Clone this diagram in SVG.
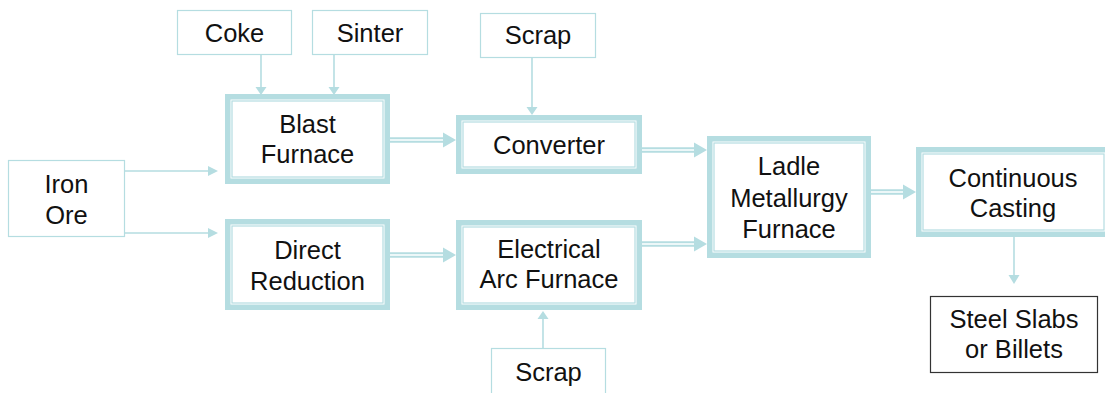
<svg xmlns="http://www.w3.org/2000/svg" width="1105" height="393" viewBox="0 0 1105 393">
<style>
text{font-family:"Liberation Sans",Arial,sans-serif;font-size:25.5px;fill:#111;text-anchor:middle}
.box{fill:#fff;stroke:#b5dde1;stroke-width:1.2}
.blk{fill:#fff;stroke:#333;stroke-width:1.2}
.outer{fill:#fff;stroke:#b5dde1;stroke-width:5.5}
.inner{fill:none;stroke:#b5dde1;stroke-width:1.2}
.ln{fill:none;stroke:#b5dde1;stroke-width:1.6}
.dbl{fill:none;stroke:#b5dde1;stroke-width:5.5}
.dblw{fill:none;stroke:#fff;stroke-width:1.5}
.ah{fill:#b5dde1}
</style>
<g id="connectors">
<path class="ln" d="M261 55V88"/><polygon class="ah" points="255.5,87 266.5,87 261,95"/>
<path class="ln" d="M334 55V88"/><polygon class="ah" points="328.5,87 339.5,87 334,95"/>
<path class="ln" d="M532 58V108"/><polygon class="ah" points="526.5,107 537.5,107 532,115"/>
<path class="ln" d="M125 171H209"/><polygon class="ah" points="208,166 208,176 218,171"/>
<path class="ln" d="M125 233H209"/><polygon class="ah" points="208,228 208,238 218,233"/>
<path class="ln" d="M1014 237V276"/><polygon class="ah" points="1008.5,275 1019.5,275 1014,284"/>
<path class="ln" d="M543 348V318"/><polygon class="ah" points="537.5,319 548.5,319 543,311"/>
<path class="dbl" d="M390 140H444"/><path class="dblw" d="M390 140H444"/><polygon class="ah" points="443,132.5 443,147.5 456,140"/>
<path class="dbl" d="M390 255H444"/><path class="dblw" d="M390 255H444"/><polygon class="ah" points="443,247.5 443,262.5 456,255"/>
<path class="dbl" d="M642 150H695"/><path class="dblw" d="M642 150H695"/><polygon class="ah" points="694,142.5 694,157.5 707,150"/>
<path class="dbl" d="M642 244H695"/><path class="dblw" d="M642 244H695"/><polygon class="ah" points="694,236.5 694,251.5 707,244"/>
<path class="dbl" d="M871 192H904"/><path class="dblw" d="M871 192H904"/><polygon class="ah" points="903,184.5 903,199.5 916,192"/>
</g>
<g id="coke"><rect class="box" x="177.5" y="10.5" width="114" height="44"/><text x="234.5" y="42">Coke</text></g>
<g id="sinter"><rect class="box" x="312.5" y="10.5" width="115" height="44"/><text x="370" y="42">Sinter</text></g>
<g id="scrap-top"><rect class="box" x="480.5" y="13.5" width="115" height="44"/><text x="538" y="44">Scrap</text></g>
<g id="iron-ore"><rect class="box" x="8.5" y="160.5" width="116" height="76"/><text x="66.5" y="193">Iron</text><text x="66.5" y="224">Ore</text></g>
<g id="blast-furnace"><rect class="outer" x="227.75" y="96.75" width="159.5" height="84.5"/><rect class="inner" x="232" y="101" width="151" height="76"/><text x="307.5" y="133">Blast</text><text x="307.5" y="163">Furnace</text></g>
<g id="converter"><rect class="outer" x="458.75" y="117.75" width="180.5" height="53.5"/><rect class="inner" x="463" y="122" width="172" height="45"/><text x="549" y="154">Converter</text></g>
<g id="direct-reduction"><rect class="outer" x="227.75" y="221.75" width="159.5" height="85.5"/><rect class="inner" x="232" y="226" width="151" height="77"/><text x="307.5" y="259">Direct</text><text x="307.5" y="290">Reduction</text></g>
<g id="eaf"><rect class="outer" x="458.75" y="222.75" width="180.5" height="84.5"/><rect class="inner" x="463" y="227" width="172" height="76"/><text x="549" y="258">Electrical</text><text x="549" y="288">Arc Furnace</text></g>
<g id="ladle"><rect class="outer" x="709.75" y="138.75" width="158.5" height="116.5"/><rect class="inner" x="714" y="143" width="150" height="108"/><text x="789" y="175">Ladle</text><text x="789" y="207">Metallurgy</text><text x="789" y="238">Furnace</text></g>
<g id="continuous-casting"><rect class="outer" x="918.75" y="149.75" width="189.5" height="84.5"/><rect class="inner" x="923" y="154" width="181" height="76"/><text x="1013" y="187">Continuous</text><text x="1013" y="217">Casting</text></g>
<g id="steel"><rect class="blk" x="930.5" y="296.5" width="167" height="76"/><text x="1014" y="328">Steel Slabs</text><text x="1014" y="358">or Billets</text></g>
<g id="scrap-bottom"><rect class="box" x="491.5" y="348.5" width="114" height="60"/><text x="548.5" y="381">Scrap</text></g>
</svg>
